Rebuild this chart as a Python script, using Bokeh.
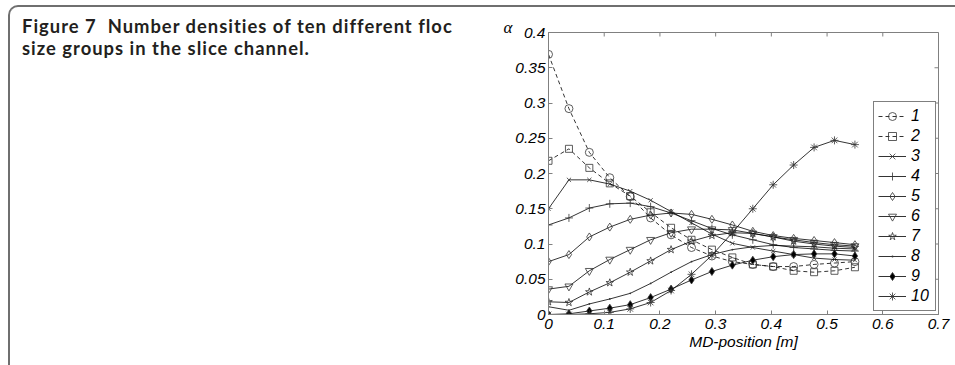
from bokeh.plotting import figure
from bokeh.models import Range1d, FixedTicker, Legend, Div, Title
from bokeh.layouts import row
from bokeh.embed import file_html
from bokeh.resources import INLINE

# ---------------- data ----------------
md_position = [0.0, 0.0367, 0.0733, 0.11, 0.1467, 0.1833, 0.22, 0.2567,
               0.2933, 0.33, 0.3667, 0.4033, 0.44, 0.4767, 0.5133, 0.55]
group1 = [0.369, 0.292, 0.230, 0.194, 0.167, 0.137, 0.113, 0.095, 0.083, 0.075, 0.071, 0.068, 0.068, 0.071, 0.073, 0.075]
group2 = [0.218, 0.235, 0.208, 0.186, 0.168, 0.145, 0.123, 0.106, 0.092, 0.081, 0.071, 0.068, 0.062, 0.060, 0.062, 0.067]
group3 = [0.150, 0.191, 0.191, 0.185, 0.175, 0.162, 0.146, 0.130, 0.114, 0.101, 0.095, 0.090, 0.085, 0.080, 0.078, 0.077]
group4 = [0.127, 0.137, 0.151, 0.157, 0.158, 0.153, 0.144, 0.133, 0.122, 0.113, 0.106, 0.099, 0.095, 0.093, 0.091, 0.090]
group5 = [0.075, 0.085, 0.110, 0.124, 0.135, 0.141, 0.144, 0.142, 0.135, 0.127, 0.118, 0.112, 0.108, 0.105, 0.102, 0.099]
group6 = [0.036, 0.040, 0.062, 0.078, 0.092, 0.106, 0.116, 0.121, 0.121, 0.120, 0.115, 0.110, 0.106, 0.102, 0.099, 0.097]
group7 = [0.018, 0.017, 0.032, 0.045, 0.060, 0.076, 0.092, 0.104, 0.112, 0.116, 0.115, 0.110, 0.104, 0.100, 0.097, 0.095]
group8 = [0.011, 0.006, 0.015, 0.022, 0.030, 0.044, 0.060, 0.075, 0.085, 0.092, 0.096, 0.098, 0.097, 0.096, 0.094, 0.093]
group9 = [0.000, 0.001, 0.005, 0.009, 0.014, 0.024, 0.036, 0.049, 0.061, 0.070, 0.077, 0.082, 0.085, 0.086, 0.086, 0.083]
group10 = [0.000, 0.000, 0.001, 0.003, 0.008, 0.017, 0.034, 0.057, 0.084, 0.116, 0.150, 0.184, 0.212, 0.237, 0.247, 0.241]
group_labels = ["1", "2", "3", "4", "5", "6", "7", "8", "9", "10"]
x_ticks = [0.0, 0.1, 0.2, 0.3, 0.4, 0.5, 0.6, 0.7]
x_tick_labels = ["0", "0.1", "0.2", "0.3", "0.4", "0.5", "0.6", "0.7"]
y_ticks = [0.0, 0.05, 0.1, 0.15, 0.2, 0.25, 0.3, 0.35, 0.4]
y_tick_labels = ["0", "0.05", "0.1", "0.15", "0.2", "0.25", "0.3", "0.35", "0.4"]
caption_line1 = "Figure 7&nbsp; Number densities of ten different floc"
caption_line2 = "size groups in the slice channel."
x_title = "MD-position [m]"
y_title = "\u03b1"

# ---------------- layout geometry ----------------
BORDER = 2          # page border width (px)
ROW_LEFT, ROW_TOP = 8, 5
DIV_W = 470
FIG_LEFT = ROW_LEFT + BORDER + DIV_W      # 480
FIG_TOP = ROW_TOP + BORDER                # 7
FL, FT, FW, FH = 548, 32, 390, 282        # frame in page pixels
W, H = 955, 365
X0, X1, Y0, Y1 = 0.0, 0.7, 0.0, 0.4
TICK_LEN = 4
FRAME = "#808080"
TICK_FONT = "Liberation Sans"

p = figure(frame_width=FW, frame_height=FH,
           min_border_left=FL - FIG_LEFT, min_border_right=W - FL - FW,
           min_border_top=FT - FIG_TOP, min_border_bottom=H - FT - FH,
           x_range=Range1d(X0, X1), y_range=Range1d(Y0, Y1),
           output_backend="svg", toolbar_location=None, margin=0)
p.xgrid.visible = False
p.ygrid.visible = False
p.outline_line_color = FRAME
p.outline_line_width = 1
p.background_fill_color = "white"
p.border_fill_color = "white"


def style_axis(ax, ticks, labels):
    ax.ticker = FixedTicker(ticks=ticks)
    ax.major_label_overrides = {t: l for t, l in zip(ticks, labels)}
    ax.major_tick_in = TICK_LEN
    ax.major_tick_out = 0
    ax.minor_tick_line_color = None
    ax.axis_line_color = FRAME
    ax.major_tick_line_color = FRAME
    ax.major_label_text_font = TICK_FONT
    ax.major_label_text_font_style = "italic"
    ax.major_label_text_color = "black"
    ax.major_label_text_font_size = "15.5px"


style_axis(p.xaxis[0], x_ticks, x_tick_labels)
p.xaxis[0].major_label_standoff = 4
p.xaxis[0].axis_label = x_title
p.xaxis[0].axis_label_text_font = TICK_FONT
p.xaxis[0].axis_label_text_font_style = "italic"
p.xaxis[0].axis_label_text_font_size = "15.5px"
p.xaxis[0].axis_label_text_color = "black"
p.xaxis[0].axis_label_standoff = 1

style_axis(p.yaxis[0], y_ticks, y_tick_labels)
p.yaxis[0].major_label_standoff = 3

# inward ticks on the top and right edges of the box (from the tick arrays)
dx_tick = TICK_LEN * (X1 - X0) / FW
dy_tick = TICK_LEN * (Y1 - Y0) / FH
p.segment(x0=x_ticks, y0=[Y1] * len(x_ticks), x1=x_ticks, y1=[Y1 - dy_tick] * len(x_ticks),
          line_color=FRAME, line_width=1)
p.segment(x0=[X1] * len(y_ticks), y0=y_ticks, x1=[X1 - dx_tick] * len(y_ticks), y1=y_ticks,
          line_color=FRAME, line_width=1)

# ---------------- series ----------------
all_groups = [group1, group2, group3, group4, group5, group6, group7, group8, group9, group10]
markers = ["circle", "square", "x", "cross", "diamond", "inverted_triangle",
           "star", "dot", "diamond", "asterisk"]
sizes = [8, 7, 6, 8, 8, 8, 8, 7, 8, 8]
fills = [None, None, None, None, None, None, None, None, "black", None]
dashes = ["4 3", "4 3", "solid", "solid", "solid", "solid", "solid", "solid", "solid", "solid"]

legend_items = []
for grp, lab, mk, sz, fc, ds in zip(all_groups, group_labels, markers, sizes, fills, dashes):
    r1 = p.line(md_position, grp, line_color="black", line_width=0.8, line_dash=ds)
    r2 = p.scatter(md_position, grp, marker=mk, size=sz, line_color="#333333",
                   line_width=0.8, fill_color=fc)
    legend_items.append((lab, [r1, r2]))

legend = Legend(items=legend_items, location=(FW - 65, 3))
legend.border_line_color = "black"
legend.border_line_width = 1
legend.background_fill_color = "white"
legend.background_fill_alpha = 1
legend.label_text_font = TICK_FONT
legend.label_text_font_style = "italic"
legend.label_text_font_size = "16px"
legend.label_text_color = "black"
legend.glyph_width = 28
legend.glyph_height = 20
legend.label_height = 20
legend.label_width = 20
legend.label_standoff = 5
legend.spacing = 0
legend.padding = 4
legend.margin = 0
p.add_layout(legend, "center")

# alpha symbol at the top-left of the y axis
p.add_layout(Title(text=y_title, align="left", offset=-45, standoff=-8,
                   text_font="Liberation Serif", text_font_style="italic",
                   text_font_size="17px", text_color="black"), "above")

# ---------------- caption ----------------
caption_html = (
    '<div style="font-family: Lato; font-weight: bold; font-size: 18.4px; '
    'letter-spacing: 1px; line-height: 22px; color: #231f20; '
    'padding: 8px 0 0 12px; white-space: nowrap;">'
    + caption_line1 + "<br>" + caption_line2 + "</div>"
)
caption = Div(text=caption_html, width=DIV_W, height=H - FIG_TOP, margin=0)

page = row(caption, p,
           styles={"border-top": f"{BORDER}px solid #6f6f6f",
                   "border-left": f"{BORDER}px solid #6f6f6f",
                   "border-top-left-radius": "10px",
                   "background-color": "white"},
           margin=(ROW_TOP, 0, 0, ROW_LEFT))

open("out.html", "w").write(file_html(page, INLINE))
